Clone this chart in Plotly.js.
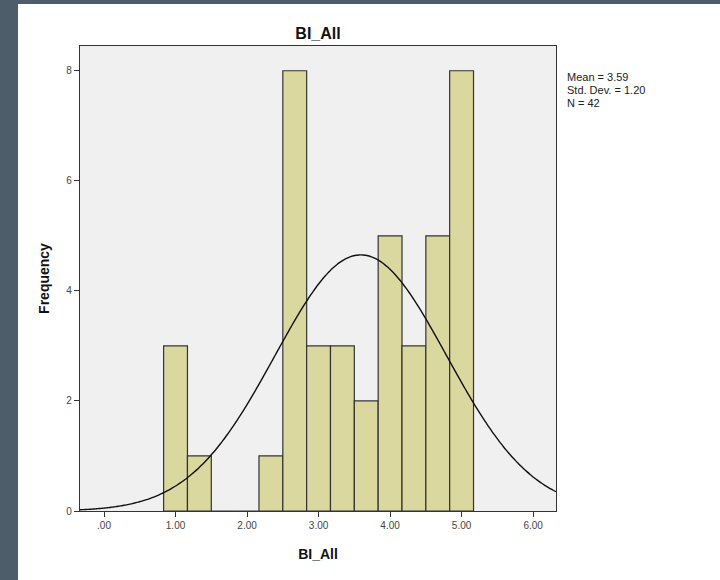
<!DOCTYPE html>
<html>
<head>
<meta charset="utf-8">
<script src="https://cdn.plot.ly/plotly-3.0.1.min.js"></script>
<style>
  html, body { margin: 0; padding: 0; background: #4d5e6a; width: 720px; height: 580px; overflow: hidden; }
  #chart { position: absolute; left: 18px; top: 4px; width: 702px; height: 576px; }
</style>
</head>
<body>
<div id="chart"></div>
<script>
// Histogram bin centers (bin width 1/3) and frequencies
const binCenters = [1.0, 1.3333, 1.6667, 2.0, 2.3333, 2.6667, 3.0, 3.3333, 3.6667, 4.0, 4.3333, 4.6667, 5.0];
const frequencies = [3, 1, 0, 0, 1, 8, 3, 3, 2, 5, 3, 5, 8];
const binWidth = 1 / 3;

// Summary statistics shown on the chart
const statMean = 3.59;
const statSD = 1.20;
const statN = 42;

// Tick labels
const xTickVals = [0, 1, 2, 3, 4, 5, 6];
const xTickText = ['.00', '1.00', '2.00', '3.00', '4.00', '5.00', '6.00'];
const yTickVals = [0, 2, 4, 6, 8];
const yTickText = ['0', '2', '4', '6', '8'];

const xRange = [-0.336, 6.32];
const yRange = [0, 8.45];

// Fitted normal curve from the stated mean / SD, scaled to counts
const curveX = [];
const curveY = [];
const steps = 200;
for (let i = 0; i <= steps; i++) {
  const x = xRange[0] + (xRange[1] - xRange[0]) * i / steps;
  const z = (x - statMean) / statSD;
  curveX.push(x);
  curveY.push(statN * binWidth * Math.exp(-0.5 * z * z) / (statSD * Math.sqrt(2 * Math.PI)));
}

const traces = [
  {
    type: 'bar',
    x: binCenters,
    y: frequencies,
    width: binWidth,
    marker: { color: '#dbd89f', line: { color: '#333333', width: 1.2 } },
    hoverinfo: 'x+y'
  },
  {
    type: 'scatter',
    mode: 'lines',
    x: curveX,
    y: curveY,
    line: { color: '#111111', width: 1.4, shape: 'spline' },
    hoverinfo: 'skip'
  }
];

const layout = {
  width: 702,
  height: 576,
  margin: { l: 62, r: 164, t: 42, b: 69 },
  paper_bgcolor: '#ffffff',
  plot_bgcolor: '#f0f0f0',
  showlegend: false,
  bargap: 0,
  font: { family: 'Arial, Liberation Sans, sans-serif', color: '#333333' },
  title: {
    text: '<b>BI_All</b>',
    font: { family: 'Arial, Liberation Sans, sans-serif', size: 16, color: '#111111' },
    x: 0.5, xref: 'paper', xanchor: 'center',
    y: 1 - 29 / 576, yref: 'container', yanchor: 'middle'
  },
  xaxis: {
    range: xRange,
    tickmode: 'array',
    tickvals: xTickVals,
    ticktext: xTickText,
    ticks: 'outside',
    ticklen: 5,
    tickcolor: '#333333',
    tickfont: { size: 10, color: '#444444' },
    showgrid: false,
    zeroline: false,
    showline: true,
    linecolor: '#333333',
    linewidth: 1.2,
    mirror: true,
    title: {
      text: '<b>BI_All</b>',
      font: { size: 14, color: '#111111' },
      standoff: 19
    }
  },
  yaxis: {
    range: yRange,
    tickmode: 'array',
    tickvals: yTickVals,
    ticktext: yTickText,
    ticks: 'outside',
    ticklen: 5,
    tickcolor: '#333333',
    tickfont: { size: 10, color: '#444444' },
    showgrid: false,
    zeroline: false,
    showline: true,
    linecolor: '#333333',
    linewidth: 1.2,
    mirror: true,
    title: {
      text: '<b>Frequency</b>',
      font: { size: 14, color: '#111111' },
      standoff: 13
    }
  },
  annotations: [
    { text: 'Mean = ' + statMean.toFixed(2), xref: 'paper', yref: 'paper', x: 1.019, y: (511 - 77) / 465, xanchor: 'left', yanchor: 'middle', showarrow: false, font: { size: 11, color: '#222222' } },
    { text: 'Std. Dev. = ' + statSD.toFixed(2), xref: 'paper', yref: 'paper', x: 1.019, y: (511 - 90) / 465, xanchor: 'left', yanchor: 'middle', showarrow: false, font: { size: 11, color: '#222222' } },
    { text: 'N = ' + statN, xref: 'paper', yref: 'paper', x: 1.019, y: (511 - 103) / 465, xanchor: 'left', yanchor: 'middle', showarrow: false, font: { size: 11, color: '#222222' } }
  ]
};

Plotly.newPlot('chart', traces, layout, { displayModeBar: false, staticPlot: true });
</script>
</body>
</html>
